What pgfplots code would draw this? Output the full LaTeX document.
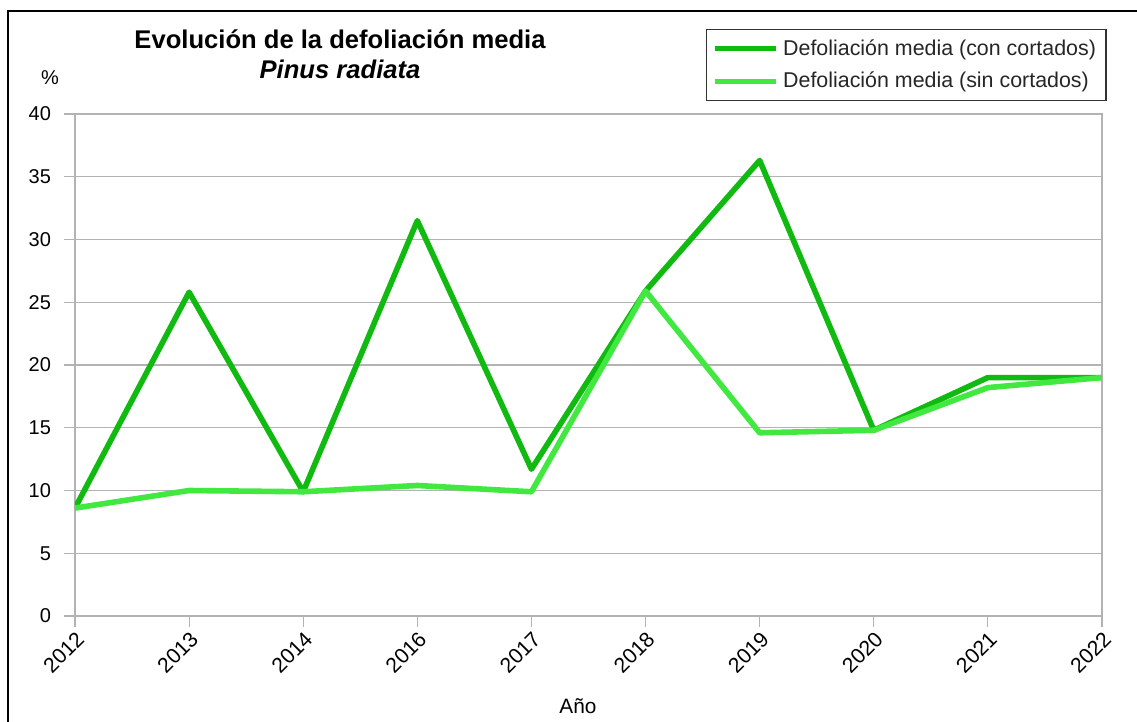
\documentclass[border=0pt]{standalone}
\usepackage{pgfplots}
\pgfplotsset{compat=1.18}
\usepackage{fontspec}
\setmainfont{Liberation Sans}
\definecolor{conc}{RGB}{16,186,16}
\definecolor{sinc}{RGB}{64,232,64}
\definecolor{gridg}{RGB}{179,179,179}
\begin{document}
\begin{tikzpicture}
\path[use as bounding box] (0,0) rectangle (568.5pt,-361pt);
\draw[line width=1pt] (4pt,-361pt) -- (4pt,-5.5pt) -- (568.5pt,-5.5pt);
\begin{axis}[
    at={(37.5pt,-308pt)}, anchor=south west,
    scale only axis, width=513.5pt, height=251pt,
    xmin=0, xmax=9, ymin=0, ymax=40,
    xtick={0,...,9},
    xticklabels={2012,2013,2014,2016,2017,2018,2019,2020,2021,2022},
    ytick={0,5,...,40},
    ymajorgrids, grid style={gridg, line width=0.6pt},
    axis line style={gridg, line width=0.6pt},
    tick align=outside, major tick length=5.5pt,
    tick style={gridg, line width=0.6pt},
    xtick pos=bottom, ytick pos=left,
    font=\fontsize{10}{11}\selectfont,
    /pgf/number format/assume math mode=true,
    xticklabel style={rotate=45, anchor=north east, inner sep=1pt,
        font=\fontsize{10.6}{12}\selectfont},
    yticklabel style={xshift=-3pt},
    legend style={at={(1.0045,1.17)}, anchor=north east,
        draw=black!80, line width=0.6pt, fill=white,
        inner xsep=3pt, inner ysep=3pt, row sep=3pt,
        font=\fontsize{10.7}{12}\selectfont, text=black!85},
    legend cell align=left,
    legend image code/.code={\draw[#1] (0pt,0pt) -- (30.5pt,0pt);},
]
% con cortados
\addplot[conc, line width=2.8pt, line join=round] coordinates {
    (0,8.6) (1,25.8) (2,9.9) (3,31.5) (4,11.7) (5,25.9) (6,36.3) (7,14.8) (8,19.0) (9,19.0)};
\addlegendentry{Defoliación media (con cortados)}
% sin cortados
\addplot[sinc, line width=2.8pt, line join=round] coordinates {
    (0,8.6) (1,10.0) (2,9.9) (3,10.4) (4,9.9) (5,25.9) (6,14.6) (7,14.8) (8,18.2) (9,19.0)};
\addlegendentry{Defoliación media (sin cortados)}
\end{axis}
\node[anchor=base, font=\fontsize{12.8}{14}\selectfont\bfseries] at (170pt,-24.5pt) {Evolución de la defoliación media};
\node[anchor=base, font=\fontsize{12.8}{14}\selectfont\bfseries\itshape] at (170pt,-39.5pt) {Pinus radiata};
\node[font=\fontsize{10}{11}\selectfont] at (25pt,-39pt) {\%};
\node[font=\fontsize{10.4}{12}\selectfont] at (289pt,-353pt) {Año};
\end{tikzpicture}
\end{document}
